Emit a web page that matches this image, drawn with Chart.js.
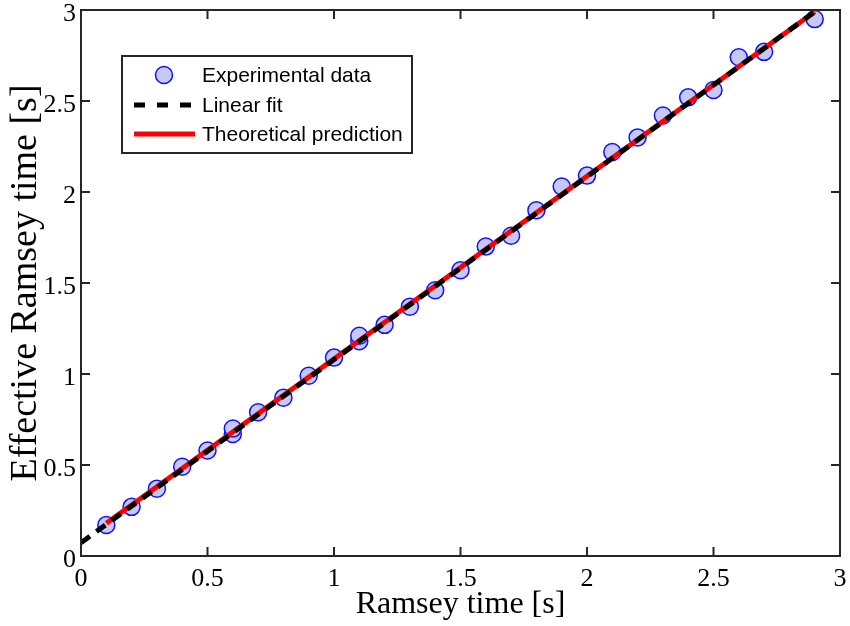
<!DOCTYPE html>
<html>
<head>
<meta charset="utf-8">
<script src="https://cdn.jsdelivr.net/npm/chart.js@4"></script>
<style>
    html, body { margin: 0; padding: 0; background: #fff; }
    #wrap { width: 850px; height: 626px; }
</style>
</head>
<body>
<div id="wrap"><canvas id="chart"></canvas></div>
<script>
// --- Data ---
const ramseyTime = [0.1, 0.2, 0.3, 0.4, 0.5, 0.6, 0.6, 0.7, 0.8, 0.9, 1.0, 1.1, 1.1, 1.2, 1.3,
    1.4, 1.5, 1.6, 1.7, 1.8, 1.9, 2.0, 2.1, 2.2, 2.3, 2.4, 2.5, 2.6, 2.7, 2.9];
const effectiveTime = [0.17, 0.27, 0.37, 0.49, 0.58, 0.67, 0.70, 0.79, 0.87, 0.99, 1.09, 1.18, 1.21, 1.27, 1.37,
    1.46, 1.57, 1.70, 1.76, 1.90, 2.03, 2.09, 2.22, 2.30, 2.42, 2.52, 2.56, 2.74, 2.77, 2.95];
const fitX = [0, 2.91];
const fitY = [0.073, 3.0];
const theoryX = [0.1, 2.9];
const theoryY = [0.18, 2.99];
const tickValues = [0, 0.5, 1, 1.5, 2, 2.5, 3];
const legendLabels = ['Experimental data', 'Linear fit', 'Theoretical prediction'];

const toPoints = (xs, ys) => xs.map((x, i) => ({ x: x, y: ys[i] }));

const frameColor = '#262626';
const serif = "'Liberation Serif', 'Times New Roman', serif";
const sans = "'Liberation Sans', Arial, sans-serif";

// frame, inward ticks on all sides, and the boxed legend
const framePlugin = {
    id: 'frame',
    afterDraw(chart) {
        const { ctx, chartArea: a, scales: { x, y } } = chart;
        const tickLen = 9;
        ctx.save();
        ctx.strokeStyle = frameColor;
        ctx.lineWidth = 2;
        ctx.strokeRect(a.left, a.top, a.right - a.left, a.bottom - a.top);
        ctx.beginPath();
        tickValues.forEach(v => {
            const px = x.getPixelForValue(v);
            ctx.moveTo(px, a.bottom); ctx.lineTo(px, a.bottom - tickLen);
            ctx.moveTo(px, a.top); ctx.lineTo(px, a.top + tickLen);
            const py = y.getPixelForValue(v);
            ctx.moveTo(a.left, py); ctx.lineTo(a.left + tickLen, py);
            ctx.moveTo(a.right, py); ctx.lineTo(a.right - tickLen, py);
        });
        ctx.stroke();

        // legend
        const box = { left: 122, top: 56, right: 412, bottom: 153 };
        ctx.fillStyle = '#fff';
        ctx.fillRect(box.left, box.top, box.right - box.left, box.bottom - box.top);
        ctx.strokeRect(box.left, box.top, box.right - box.left, box.bottom - box.top);
        const rows = [75, 105, 134];
        const ds = chart.data.datasets;
        ctx.font = '21px ' + sans;
        ctx.textBaseline = 'middle';
        ctx.textAlign = 'left';

        ctx.beginPath();
        ctx.arc(164, rows[0], 8.5, 0, Math.PI * 2);
        ctx.fillStyle = ds[0].backgroundColor;
        ctx.fill();
        ctx.lineWidth = ds[0].borderWidth;
        ctx.strokeStyle = ds[0].borderColor;
        ctx.stroke();

        ctx.beginPath();
        ctx.setLineDash([11, 12]);
        ctx.lineWidth = ds[2].borderWidth;
        ctx.strokeStyle = ds[2].borderColor;
        ctx.moveTo(134, rows[1]); ctx.lineTo(195, rows[1]);
        ctx.stroke();
        ctx.setLineDash([]);

        ctx.beginPath();
        ctx.lineWidth = ds[1].borderWidth;
        ctx.strokeStyle = ds[1].borderColor;
        ctx.moveTo(134, rows[2]); ctx.lineTo(195, rows[2]);
        ctx.stroke();

        ctx.fillStyle = '#000';
        legendLabels.forEach((t, i) => ctx.fillText(t, 202, rows[i] + 1));
        ctx.restore();
    }
};

document.addEventListener('DOMContentLoaded', () => {
    const ctx = document.getElementById('chart').getContext('2d');

    new Chart(ctx, {
        type: 'scatter',
        data: {
            datasets: [
                {
                    label: legendLabels[0],
                    data: toPoints(ramseyTime, effectiveTime),
                    backgroundColor: 'rgb(198, 200, 246)',
                    borderColor: '#1010ff',
                    borderWidth: 1.5,
                    pointRadius: 8.5,
                    order: 3
                },
                {
                    label: legendLabels[2],
                    data: toPoints(theoryX, theoryY),
                    showLine: true,
                    borderColor: '#ff0000',
                    borderWidth: 5,
                    pointRadius: 0,
                    order: 2
                },
                {
                    label: legendLabels[1],
                    data: toPoints(fitX, fitY),
                    showLine: true,
                    borderColor: '#000000',
                    borderWidth: 5,
                    borderDash: [11, 8],
                    pointRadius: 0,
                    order: 1
                }
            ]
        },
        options: {
            responsive: true,
            maintainAspectRatio: false,
            animation: false,
            layout: { padding: { left: 0, right: 6, top: 8.5, bottom: 0 } },
            plugins: { legend: { display: false }, tooltip: { enabled: false } },
            scales: {
                x: {
                    type: 'linear', min: 0, max: 3,
                    grid: { display: false, drawTicks: false },
                    border: { display: false },
                    ticks: {
                        stepSize: 0.5, padding: 8, color: '#000', font: { family: serif, size: 26 },
                        callback: (v) => String(v)
                    },
                    title: {
                        display: true, text: 'Ramsey time [s]', color: '#000',
                        font: { family: serif, size: 32 }, padding: { top: 0, bottom: 2 }
                    },
                    afterFit: (s) => { s.height = 70; s.paddingLeft = 0; s.paddingRight = 0; }
                },
                y: {
                    type: 'linear', min: 0, max: 3,
                    grid: { display: false, drawTicks: false },
                    border: { display: false },
                    ticks: {
                        stepSize: 0.5, padding: 5, labelOffset: 4, color: '#000', font: { family: serif, size: 26 },
                        callback: (v) => String(v)
                    },
                    title: {
                        display: true, text: 'Effective Ramsey time [s]', color: '#000',
                        font: { family: serif, size: 38 }, padding: { top: 3, bottom: 0 }
                    },
                    afterFit: (s) => { s.width = 81; s.paddingTop = 0; s.paddingBottom = 0; }
                }
            }
        },
        plugins: [framePlugin]
    });
});
</script>
</body>
</html>
